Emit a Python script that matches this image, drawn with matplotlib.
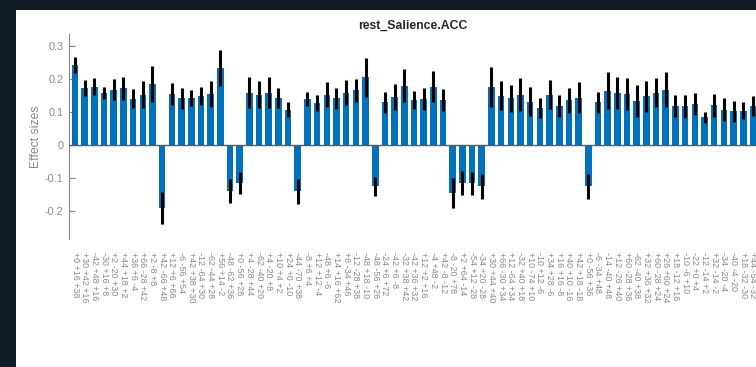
import matplotlib
matplotlib.use("Agg")
import matplotlib.pyplot as plt
from matplotlib.patches import Rectangle
import numpy as np

plt.rcParams['font.family'] = ['Liberation Sans', 'DejaVu Sans']

title = "rest_Salience.ACC"
ylabel = "Effect sizes"

coords = [
    "+0 +16 +38", "+30 +42 +16", "-42 +48 +16", "-30 +16 +8", "+2 -20 +30",
    "+44 +18 +2", "+36 +6 -4", "+66 -28 +42", "+2 -8 +8", "+42 -66 +48",
    "+12 +6 +66", "-6 -56 +54", "+42 +38 +30", "-12 -64 +30", "-62 -44 +28",
    "+56 +14 -2", "-48 -62 +36", "+0 -56 +28", "+4 -28 +44", "-62 -40 +20",
    "+4 -20 +8", "+10 +4 +2", "+24 +0 -10", "-44 -70 +38", "-8 +6 +4",
    "+12 +12 -4", "-48 +6 -6", "+14 +16 +62", "+8 -34 +46", "-12 -28 +38",
    "-48 +18 -10", "-48 -56 +26", "-24 +6 +72", "-42 +6 -8", "-32 +38 +42",
    "-42 +36 +32", "+12 +2 +16", "-4 +48 -2", "+42 -8 -12", "-8 -20 +78",
    "+2 +64 -14", "-54 +12 -28", "-34 +20 -28", "+30 +44 +40", "+66 -30 +34",
    "+12 -64 +34", "-32 +40 +18", "+10 -74 +10", "-10 +12 -6", "+34 +28 -6",
    "+16 +16 -8", "+40 +10 -16", "+42 +18 -18", "+0 -56 +36", "-6 -34 +48",
    "-14 -40 +48", "+12 -26 +40", "+60 -28 +36", "-62 -40 +38", "+32 +36 +32",
    "+60 -28 +24", "+26 +60 +24", "+18 -12 +16", "-10 -6 +10", "-22 +0 +4",
    "-12 -14 +2", "+32 -14 -2", "-34 -20 -4", "-40 -4 -20", "+18 -32 -30",
    "+44 -54 -32",
]

effect = [
    0.240, 0.172, 0.175, 0.157, 0.167, 0.171, 0.139, 0.152, 0.184, -0.192,
    0.154, 0.141, 0.141, 0.148, 0.154, 0.232, -0.139, -0.116, 0.157, 0.152,
    0.158, 0.141, 0.106, -0.141, 0.138, 0.126, 0.152, 0.140, 0.157, 0.165,
    0.204, -0.126, 0.128, 0.145, 0.179, 0.136, 0.138, 0.176, 0.136, -0.145,
    -0.116, -0.116, -0.126, 0.175, 0.148, 0.141, 0.152, 0.130, 0.111, 0.152,
    0.118, 0.134, 0.142, -0.126, 0.128, 0.164, 0.157, 0.154, 0.133, 0.146,
    0.158, 0.167, 0.118, 0.116, 0.123, 0.083, 0.119, 0.106, 0.101, 0.103,
    0.116,
]

error = [
    0.024, 0.024, 0.026, 0.018, 0.033, 0.035, 0.029, 0.041, 0.054, 0.049,
    0.034, 0.032, 0.025, 0.027, 0.039, 0.054, 0.036, 0.033, 0.047, 0.041,
    0.048, 0.031, 0.023, 0.038, 0.022, 0.024, 0.038, 0.033, 0.038, 0.035,
    0.059, 0.029, 0.032, 0.040, 0.049, 0.027, 0.034, 0.046, 0.034, 0.045,
    0.037, 0.035, 0.038, 0.060, 0.044, 0.041, 0.051, 0.044, 0.030, 0.045,
    0.034, 0.039, 0.047, 0.038, 0.033, 0.056, 0.048, 0.048, 0.048, 0.048,
    0.044, 0.052, 0.033, 0.034, 0.033, 0.017, 0.034, 0.035, 0.032, 0.026,
    0.030,
]

yticks = [-0.2, -0.1, 0, 0.1, 0.2, 0.3]

W, H = 756, 367
fig = plt.figure(figsize=(W / 100, H / 100), dpi=100, facecolor="#0f1a27")

# white figure window sitting on a dark desktop
fig.add_artist(Rectangle((16 / W, 0), 1, (H - 10) / H, transform=fig.transFigure,
                         facecolor="white", edgecolor="none", zorder=-10))

ax = fig.add_axes([69 / W, (H - 239) / H, (757 - 69) / W, (239 - 34) / H])
ax.set_facecolor("white")

x = np.arange(len(effect))
blue = "#0072BD"
gray = "#878787"

ax.bar(x, effect, width=0.68, color=blue, edgecolor="none", zorder=2)
ax.errorbar(x, effect, yerr=error, fmt="none", ecolor="black",
            elinewidth=2.2, capsize=0, zorder=3)
ax.axhline(0, color="#5a5a5a", lw=1.0, zorder=4)

ax.set_xlim(-0.62, 70.42)
ax.set_ylim(-0.285, 0.335)
ax.set_yticks(yticks)
ax.set_yticklabels([f"{t:g}" for t in yticks])
ax.set_xticks(x)
ax.set_xticklabels(coords, rotation=-90, ha="center", va="top",
                   fontsize=6.4, color=gray)

ax.tick_params(axis="y", direction="in", length=4.3, width=0.8, colors=gray,
               labelsize=7.8, pad=4)
ax.tick_params(axis="x", length=0, pad=9.5)

for side in ("top", "right", "bottom"):
    ax.spines[side].set_visible(False)
ax.spines["left"].set_color(gray)
ax.spines["left"].set_linewidth(0.8)

ax.set_ylabel(ylabel, color=gray, fontsize=8.8, labelpad=2)
ax.set_title(title, fontsize=8.8, fontweight="bold", color="#262626", pad=4)

fig.savefig("out.png", dpi=100, facecolor=fig.get_facecolor())
